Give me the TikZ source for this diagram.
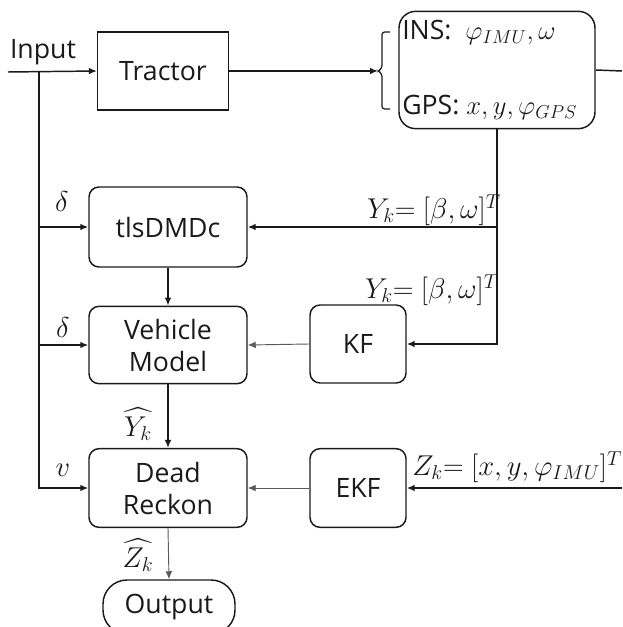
\RequirePackage{fix-cm}
\documentclass[tikz,border=0pt]{standalone}
\usepackage{amsmath}
\usepackage{fontspec}
\setmainfont{Open Sans}
\usetikzlibrary{arrows.meta, positioning, calc}
\definecolor{flowblack}{HTML}{1A1A1A}
\definecolor{flowgrey}{HTML}{5A5A5A}

\begin{document}
\begin{tikzpicture}[x=0.75pt, y=-0.75pt,
    every node/.style={font=\fontsize{20}{24}\selectfont, text=flowblack},
    mathlbl/.style={font=\fontsize{21.5}{26}\selectfont, inner sep=0pt},
    block/.style={draw=flowblack, line width=1.1pt, rounded corners=7.5pt, align=center,
      minimum width=118.5pt, inner sep=0pt},
    small block/.style={block, minimum width=72pt},
    wire/.style={draw=flowblack, line width=1.1pt},
    thin wire/.style={draw=flowgrey, line width=0.7pt},
    arr/.style={-{Latex[length=6pt,width=5pt]}}]
  \useasboundingbox (0,0) rectangle (622,627);
  % blocks
  \node[block, rounded corners=0pt, minimum width=98pt, minimum height=58.5pt] (tractor) at (163,71) {Tractor};
  \node[block, rounded corners=12.5pt, minimum width=147pt, minimum height=88pt] (sensors) at (497,70) {};
  \node[anchor=west, inner sep=0pt] (ins) at (402,32) {INS:\ \ $\varphi_{IMU},\omega$};
  \node[anchor=west, inner sep=0pt] (gps) at (402,107) {GPS: $x,y,\varphi_{GPS}$};
  \node[block, minimum height=60pt] (tls) at (168,227) {tlsDMDc};
  \node[block, minimum height=58pt] (vm) at (168,345) {Vehicle\\Model};
  \node[block, minimum height=59pt] (dr) at (168,488) {Dead\\Reckon};
  \node[small block, minimum height=58.5pt] (kf) at (358,344) {KF};
  \node[small block, minimum height=59pt] (ekf) at (358,488) {EKF};
  \node[block, rounded corners=18pt, minimum width=99pt, minimum height=40.5pt] (out) at (169,607) {Output};
  % bracket in front of the sensors
  \coordinate (nub) at (378,71);
  \draw[flowblack, line width=0.9pt, rounded corners=2pt]
    (390,32) -- (382,32) -- (382,68) -- (nub) -- (382,74) -- (382,109) -- (390,109);
  % free ends
  \coordinate (inL) at (8,72);
  \coordinate (busTop) at (39,72);
  \coordinate (outR) at (622,71);
  \coordinate (zIn) at (622,488);
  % connectors
  \draw[wire, arr] (inL) -- (tractor.west);
  \draw[wire, arr] (tractor.east) -- (nub);
  \draw[wire] (sensors.east) -- (outR);
  \draw[wire, arr] (busTop) |- (dr.west);
  \draw[wire, arr] (busTop |- tls.west) -- (tls.west);
  \draw[wire, arr] (busTop |- vm.west) -- (vm.west);
  \draw[wire, arr] (sensors.south) |- (kf.east);
  \draw[wire, arr] (sensors.south |- tls.east) -- (tls.east);
  \draw[wire, arr] (tls.south) -- (vm.north);
  \draw[wire, arr] (vm.south) -- (dr.north);
  \draw[thin wire, arr] (kf.west) -- (vm.east);
  \draw[thin wire, arr] (ekf.west) -- (dr.east);
  \draw[wire, arr] (zIn) -- (ekf.east);
  \draw[thin wire, arr] (dr.south) -- (out.north);
  % labels
  \node (inputlbl) at (43,52) {Input};
  \node[mathlbl] (deltaA) at (62,202) {$\delta$};
  \node[mathlbl] (deltaB) at (63,328) {$\delta$};
  \node[mathlbl] (vlbl) at (63,470) {$v$};
  \node[mathlbl, anchor=east] (ykA) at (501,210) {$Y_k{=}\ [\beta,\omega]^T$};
  \node[mathlbl, anchor=east] (ykB) at (499,290) {$Y_k{=}\ [\beta,\omega]^T$};
  \node[mathlbl, anchor=west] (zk) at (412,467) {$Z_k{=}\ [x,y,\varphi_{IMU}]^T$};
  \node[mathlbl] (yhat) at (138,424) {$\widehat{Y_k}$};
  \node[mathlbl] (zhat) at (138,555) {$\widehat{Z_k}$};
\end{tikzpicture}
\end{document}
